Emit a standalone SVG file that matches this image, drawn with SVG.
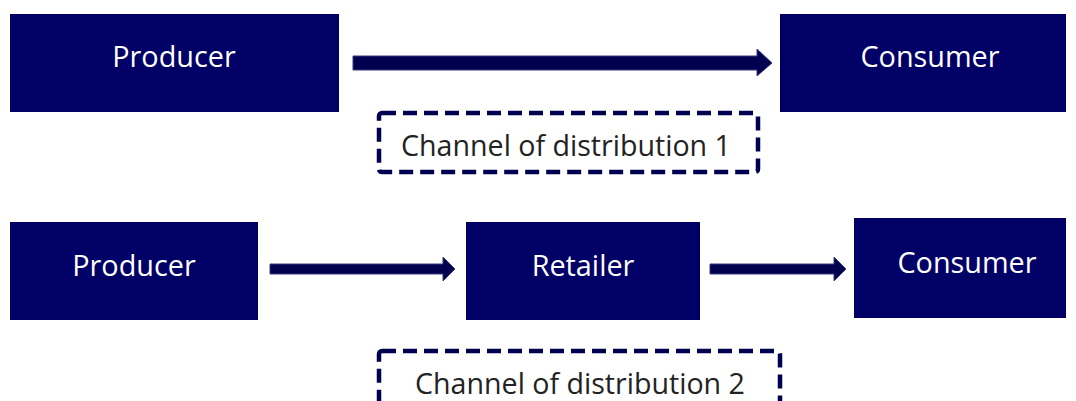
<svg xmlns="http://www.w3.org/2000/svg" width="1076" height="401" viewBox="0 0 1076 401">
<style>
.box{fill:#000066}
.lbl{font-family:"Open Sans","Liberation Sans",sans-serif;font-size:28.8px;fill:#ffffff;text-anchor:middle;dominant-baseline:central}
.ch{fill:none;stroke:#000050;stroke-width:4.5;stroke-dasharray:14 7;}
.chl{font-family:"Open Sans","Liberation Sans",sans-serif;font-size:28.6px;fill:#222222;text-anchor:middle;dominant-baseline:central}
.arr{fill:#000050;stroke:#3a3a7a;stroke-width:1}
</style>
<rect width="1076" height="401" fill="#ffffff"/>
<g id="producer1"><rect class="box" x="10" y="14" width="329" height="98"/><text class="lbl" x="174" y="55">Producer</text></g>
<g id="consumer1"><rect class="box" x="780" y="14" width="286" height="98"/><text class="lbl" x="930" y="55">Consumer</text></g>
<g id="channel1"><rect class="ch" x="379" y="113" width="379" height="59" rx="3"/><text class="chl" x="566" y="144">Channel of distribution 1</text></g>
<g id="producer2"><rect class="box" x="10" y="222" width="248" height="98"/><text class="lbl" x="134" y="264">Producer</text></g>
<g id="retailer"><rect class="box" x="466" y="222" width="234" height="98"/><text class="lbl" x="583" y="264">Retailer</text></g>
<g id="consumer2"><rect class="box" x="854" y="218" width="212" height="100"/><text class="lbl" x="967" y="261">Consumer</text></g>
<g id="channel2"><rect class="ch" x="379" y="351" width="401" height="70" rx="3"/><text class="chl" x="580" y="382">Channel of distribution 2</text></g>
<g id="connectors">
<path class="arr" d="M353,56 H757 V49 L772,63 L757,76 V70 H353 Z"/>
<path class="arr" d="M270,264 H443 V257 L455,269 L443,281 V274 H270 Z"/>
<path class="arr" d="M710,264 H834 V257 L846,269 L834,281 V274 H710 Z"/>
</g>
</svg>
